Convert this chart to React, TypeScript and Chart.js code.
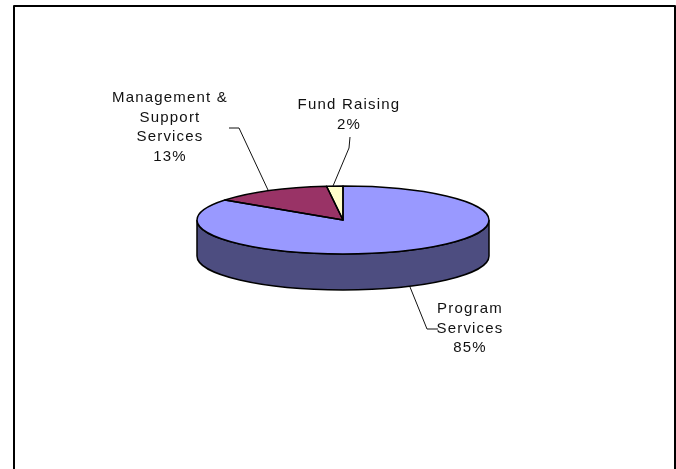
import React, { useEffect, useRef } from "react";
import { Chart, registerables } from "chart.js";

Chart.register(...registerables);

const categories = ["Program Services", "Management & Support Services", "Fund Raising"];
const shares = [85, 13.2, 1.8];
const topColors = ["#9999FF", "#993366", "#FFFFCC"];
const sideColors = ["#4D4D80", "#4D1A33", "#808066"];
const labelLines = [
  ["Program", "Services", "85%"],
  ["Management &", "Support", "Services", "13%"],
  ["Fund Raising", "2%"],
];
const labelAnchors = [
  { x: 470, ys: [309, 329, 348] },
  { x: 170, ys: [98, 118, 137, 157] },
  { x: 349, ys: [105, 125] },
];
const leaders = [
  [[410, 287], [427, 329], [438, 329]],
  [[229, 128], [239, 128], [268, 190]],
  [[350, 137], [349, 148], [333, 186]],
];
const SQUASH = 34 / 146;
const DEPTH = 36;

const pie3d = {
  id: "pie3d",
  beforeDatasetsDraw(chart: any) {
    const ctx = chart.ctx;
    const arcs = chart.getDatasetMeta(0).data;
    arcs.forEach((arc: any, i: number) => {
      const R = arc.outerRadius;
      const a = Math.max(arc.startAngle, 0);
      const b = Math.min(arc.endAngle, Math.PI);
      if (b <= a) return;
      ctx.beginPath();
      ctx.ellipse(arc.x, arc.y, R, R * SQUASH, 0, a, b);
      ctx.ellipse(arc.x, arc.y + DEPTH, R, R * SQUASH, 0, b, a, true);
      ctx.closePath();
      ctx.fillStyle = sideColors[i];
      ctx.fill();
      ctx.strokeStyle = "#000";
      ctx.lineWidth = 1.5;
      ctx.stroke();
    });
    const { x, y } = arcs[0];
    ctx.save();
    ctx.translate(x, y);
    ctx.scale(1, SQUASH);
    ctx.translate(-x, -y);
  },
  afterDatasetsDraw(chart: any) {
    const ctx = chart.ctx;
    ctx.restore();
    const arcs = chart.getDatasetMeta(0).data;
    ctx.strokeStyle = "#000";
    ctx.lineJoin = "round";
    arcs.forEach((arc: any) => {
      ctx.beginPath();
      ctx.moveTo(arc.x, arc.y);
      ctx.ellipse(arc.x, arc.y, arc.outerRadius, arc.outerRadius * SQUASH, 0, arc.startAngle, arc.endAngle);
      ctx.closePath();
      ctx.lineWidth = 1.5;
      ctx.stroke();
    });
    ctx.lineWidth = 1;
    ctx.strokeStyle = "#111";
    leaders.forEach((pts) => {
      ctx.beginPath();
      pts.forEach(([px, py], k) => (k ? ctx.lineTo(px, py) : ctx.moveTo(px, py)));
      ctx.stroke();
    });
    ctx.fillStyle = "#111";
    ctx.font = "15px 'Liberation Sans', Arial, sans-serif";
    ctx.textAlign = "center";
    ctx.textBaseline = "middle";
    ctx.letterSpacing = "1.2px";
    labelLines.forEach((lines, i) => {
      lines.forEach((t, k) => ctx.fillText(t, labelAnchors[i].x, labelAnchors[i].ys[k]));
    });
    ctx.letterSpacing = "0px";
    // chart frame: open at the bottom, where the page cuts it off
    ctx.strokeStyle = "#000";
    ctx.lineWidth = 2;
    ctx.beginPath();
    ctx.moveTo(14, 469);
    ctx.lineTo(14, 6);
    ctx.lineTo(675, 6);
    ctx.lineTo(675, 469);
    ctx.stroke();
  },
};

export default function App() {
  const ref = useRef<HTMLCanvasElement>(null);
  useEffect(() => {
    const chart = new Chart(ref.current!, {
      type: "pie",
      data: {
        labels: categories,
        datasets: [
          { data: shares, backgroundColor: topColors, borderWidth: 0, clip: false } as any,
        ],
      },
      options: {
        responsive: false,
        animation: false,
        radius: 146,
        layout: { padding: { left: 10, right: 0, top: 0, bottom: 29 } },
        plugins: { legend: { display: false }, tooltip: { enabled: false }, title: { display: false } },
      } as any,
      plugins: [pie3d],
    });
    return () => chart.destroy();
  }, []);
  return (
    <canvas
      ref={ref}
      width={676}
      height={469}
      style={{ position: "absolute", left: 0, top: 0, width: 676, height: 469, background: "#fff" }}
    />
  );
}
